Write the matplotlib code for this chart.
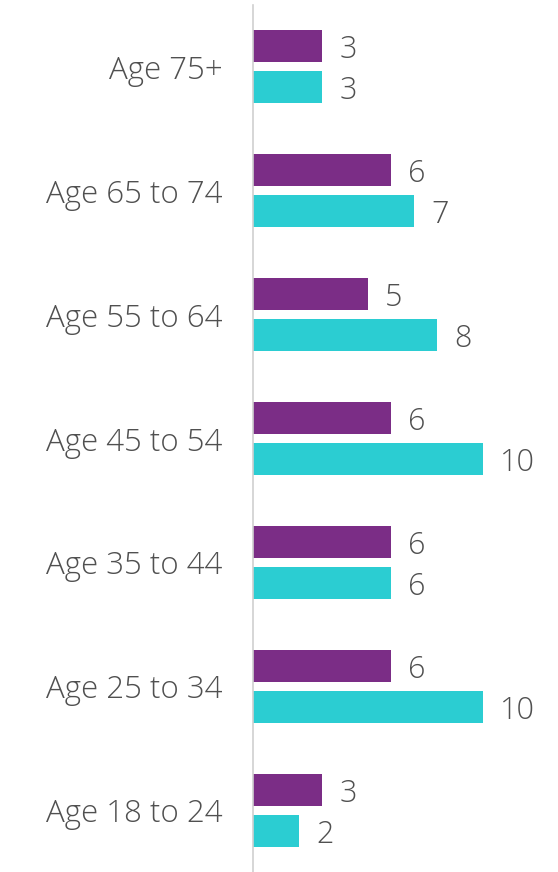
import matplotlib
matplotlib.use("Agg")
import matplotlib.pyplot as plt
import numpy as np

categories = ["Age 75+", "Age 65 to 74", "Age 55 to 64", "Age 45 to 54",
              "Age 35 to 44", "Age 25 to 34", "Age 18 to 24"]
series_a = [3, 6, 5, 6, 6, 6, 3]
series_b = [3, 7, 8, 10, 6, 10, 2]

PURPLE = "#7B2D86"
CYAN = "#2BCDD2"
TEXT = "#505050"

fig = plt.figure(figsize=(5.58, 8.72), dpi=100)
ax = fig.add_axes([253 / 558, 0, 1 - 253 / 558, 867 / 872])

y = np.arange(len(categories))
h = 32 / 124
off = 20.5 / 124
ax.barh(y - off, series_a, height=h, color=PURPLE)
ax.barh(y + off, series_b, height=h, color=CYAN)

font = dict(family=["Open Sans", "DejaVu Sans"], fontweight="light", color=TEXT)
for yi, v in zip(y, series_a):
    ax.text(v + 0.75, yi - off, str(v), va="center_baseline", ha="left", fontsize=22, **font)
for yi, v in zip(y, series_b):
    ax.text(v + 0.75, yi + off, str(v), va="center_baseline", ha="left", fontsize=22, **font)

ax.set_xlim(0, 305 / 23)
ax.set_ylim(len(categories) - 0.5, -0.5)
ax.set_yticks(y)
ax.set_yticklabels(categories, fontsize=22.5, **font)
ax.tick_params(axis="y", length=0, pad=22)
ax.set_xticks([])
for s in ["top", "right", "bottom"]:
    ax.spines[s].set_visible(False)
ax.spines["left"].set_color("#D0D0D0")
ax.spines["left"].set_linewidth(1.2)

fig.savefig("out.png", dpi=100)
